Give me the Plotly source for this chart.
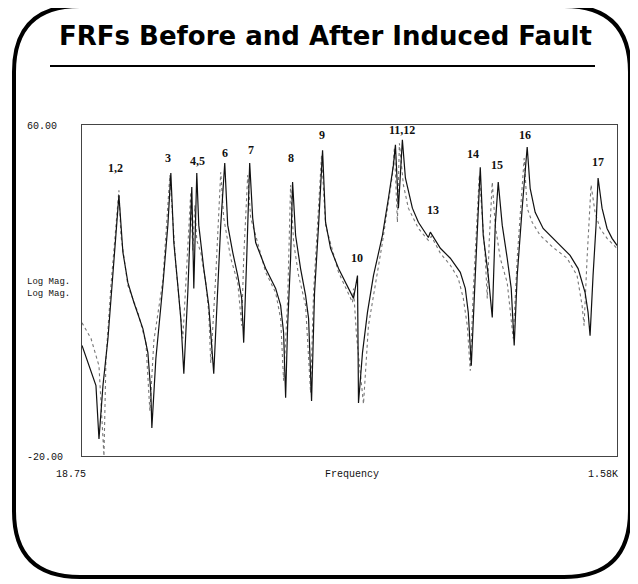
import plotly.graph_objects as go

# ---- data ----
before_freq = [18.75, 59.5, 68.3, 79.9, 94.5, 112, 126.5, 138.2, 152.7, 170.2,
               196.4, 211, 219.7, 222.6, 234.3, 254.7, 269.3, 278, 286.7, 298.4,
               307.1, 315.9, 327.5, 339.2, 345, 353.7, 359.5, 374.1, 388.7, 403.2,
               414.9, 423.6, 435.3, 444, 458.6, 473.2, 484.8, 490.6, 499.4, 508.1,
               516.9, 525.6, 554.7, 583.8, 598.4, 607.1, 613, 618.8, 627.5, 633.3,
               642.1, 656.6, 671.2, 680, 688.7, 697.4, 709.1, 720.8, 729.5, 744.1,
               767.4, 793.6, 811.1, 822.7, 825.6, 837.3, 851.8, 869.3, 895.5, 913,
               927.5, 933.4, 942.1, 953.7, 962.5, 982.9, 1000.4, 1029.5, 1035.3, 1064.5,
               1093.6, 1122.7, 1137.3, 1146, 1154.8, 1166.4, 1181, 1189.7, 1204.3, 1216,
               1224.7, 1233.4, 1245.1, 1259.6, 1271.3, 1280, 1288.8, 1303.3, 1317.9, 1326.6,
               1341.2, 1364.5, 1405.3, 1443.1, 1466.5, 1486.9, 1495.6, 1501.4, 1510.1, 1518.9,
               1524.8, 1536.4, 1551, 1565.6, 1580]
before_mag = [6.7, -3, -15.9, -3, 8.4, 26.1, 43, 29.2, 21.9, 17.1,
              10.8, 5, -4.7, -13.2, 3.5, 21.2, 35.8, 48.4, 31.6, 21.2,
              13.2, -0.1, 19.5, 45, 20.5, 48.4, 35.8, 25.3, 16.4, -0.1,
              19.5, 35.8, 50.8, 35.8, 29.2, 23.6, 18.1, 7.4, 27.8, 50.8,
              37.5, 31.6, 25.3, 20.5, 16.4, 9.8, -5.9, 11.5, 27.8, 46.2,
              33.3, 25.3, 18.8, 13.2, -6.7, 19.5, 35.8, 53.9, 36.5, 30.2,
              25.3, 21.2, 18.1, 23.6, -7.2, 5, 14.7, 23.6, 33.3, 42.3,
              50.3, 55.2, 39.9, 56.4, 47.2, 39.9, 36.5, 32.8, 34.1, 30.2,
              27.8, 24.4, 20.5, 14.7, 1.8, 23.6, 49.8, 33.3, 23.6, 13.5,
              35.8, 46.2, 35.8, 27.8, 20.5, 6.7, 23.6, 39.9, 54.7, 44.7,
              38.9, 35, 31.6, 28.5, 25.3, 19.5, 14.7, 9.1, 23.6, 35.8,
              47.2, 39.9, 35, 32.6, 30.9]

after_freq = [18.75, 45, 68.3, 82.8, 88.7, 103.2, 126.5, 132.3, 152.7, 181.9,
              205.2, 216.8, 228.5, 254.7, 275.1, 292.6, 313, 324.6, 336.2, 342.1,
              347.9, 353.7, 365.4, 379.9, 388.7, 394.5, 409.1, 423.6, 432.4, 452.8,
              473.2, 484.8, 490.6, 502.3, 511, 525.6, 540.2, 554.7, 583.8, 598.4,
              607.1, 618.8, 627.5, 636.3, 650.8, 671.2, 685.8, 694.5, 717.8, 729.5,
              767.4, 808.2, 811.1, 819.8, 840.2, 854.7, 895.5, 924.6, 930.4, 939.2,
              945, 956.7, 971.2, 1000.4, 1029.5, 1038.2, 1064.5, 1093.6, 1116.9, 1131.5,
              1143.1, 1151.8, 1160.6, 1178.1, 1195.6, 1201.4, 1207.2, 1216, 1224.7, 1239.3,
              1259.6, 1277.1, 1288.8, 1309.1, 1317.9, 1332.4, 1355.8, 1393.6, 1434.4, 1463.5,
              1478.1, 1483.9, 1492.7, 1504.3, 1516, 1530.6, 1551, 1580]
after_mag = [12.2, 8.4, 1.8, -20, 3.5, 21.2, 44.2, 33.3, 21.2, 14.7,
             7.4, -9.1, 7.9, 22.4, 47.9, 26.1, 8.4, 24.8, 43.8, 29.7,
             40.6, 32.1, 29.2, 21.9, 14.7, 2.5, 23.6, 48.6, 37.5, 27.8,
             21.9, 11.5, 27.8, 47.9, 37.5, 33.3, 28.5, 24.4, 19.5, 13.2,
             -1.8, 17.6, 45.5, 31.6, 23.6, 16.4, -4.7, 19.5, 52.7, 35.8,
             24.4, 17.1, 20.5, 9.1, -7.4, 11.5, 31.6, 47.9, 54.4, 36.5,
             55.6, 45.5, 39.9, 35, 32.1, 33.1, 29, 26.1, 22.9, 18.1,
             11.5, 0.6, 20, 47.9, 27.8, 18.1, 32.1, 46.2, 35.8, 27.8,
             21.9, 8.4, 27.8, 52, 39.9, 36.5, 33.3, 30.4, 27.8, 23.6,
             16.4, 11.5, 27.8, 45.5, 38.9, 35, 32.6, 30.2]

peak_labels = ["1,2", "3", "4,5", "6", "7", "8", "9", "10", "11,12", "13", "14", "15", "16", "17"]
peak_freq = [117.8, 269.3, 356.6, 435.3, 511, 627.5, 717.8, 822.7, 953.7, 1044, 1160.6, 1230.5, 1312, 1524.8]
peak_mag = [49.6, 52, 51.3, 53.2, 53.9, 52, 57.6, 27.8, 58.8, 39.4, 53, 50.3, 57.6, 51]

title_text = "FRFs Before and After Induced Fault"
x_min, x_max = 18.75, 1580
y_min, y_max = -20, 60
x_min_label, x_max_label, x_title = "18.75", "1.58K", "Frequency"
y_max_label, y_min_label, y_title = "60.00", "-20.00", "Log Mag."

# ---- layout geometry (page pixels; the page body has an 8px margin) ----
OFF = 8
PAGE_W, PAGE_H = 638, 584
W, H = PAGE_W - OFF, PAGE_H - OFF
PL, PR, PT, PB = 82, 617, 125, 456


def px(x):
    return (x - PL) / (PR - PL)


def py(y):
    return (PB - y) / (PB - PT)


fig = go.Figure()
fig.add_trace(go.Scatter(x=after_freq, y=after_mag, mode="lines",
                         line=dict(color="#777777", width=1.1, dash="dot"),
                         showlegend=False, hoverinfo="skip"))
fig.add_trace(go.Scatter(x=before_freq, y=before_mag, mode="lines",
                         line=dict(color="#111111", width=1.2),
                         showlegend=False, hoverinfo="skip"))

annotations = []
for t, f, m in zip(peak_labels, peak_freq, peak_mag):
    annotations.append(dict(x=f, y=m, xref="x", yref="y", text="<b>%s</b>" % t,
                            showarrow=False, xanchor="center", yanchor="middle",
                            font=dict(family="Liberation Serif", size=12, color="#111")))

mono = dict(family="Liberation Mono", size=10, color="#111")
axis_texts = [
    dict(x=px(25), y=py(127), text=y_max_label, xanchor="left"),
    dict(x=px(25), y=py(457), text=y_min_label, xanchor="left"),
    dict(x=px(25), y=py(287.5), text=y_title + "<br>" + y_title, xanchor="left", align="left",
         font=dict(family="Liberation Mono", size=9, color="#111")),
    dict(x=px(54), y=py(474), text=x_min_label, xanchor="left"),
    dict(x=px(352), y=py(474), text=x_title, xanchor="center"),
    dict(x=px(620), y=py(474), text=x_max_label, xanchor="right"),
]
for a in axis_texts:
    a.setdefault("font", mono)
    a.update(xref="paper", yref="paper", showarrow=False, yanchor="middle")
annotations += axis_texts

annotations.append(dict(x=px(325), y=py(36), xref="paper", yref="paper", text="<b>%s</b>" % title_text,
                        showarrow=False, xanchor="center", yanchor="middle",
                        font=dict(family="DejaVu Sans", size=26, color="#000")))

# rounded frame
L, R, T, B, r = 14, 630, 6, 577, 66


def P(x, y):
    return "%f,%f" % (px(x), py(y))


path = ("M " + P(L + r, T) + " L " + P(R - r, T) + " Q " + P(R, T) + " " + P(R, T + r) +
        " L " + P(R, B - r) + " Q " + P(R, B) + " " + P(R - r, B) +
        " L " + P(L + r, B) + " Q " + P(L, B) + " " + P(L, B - r) +
        " L " + P(L, T + r) + " Q " + P(L, T) + " " + P(L + r, T) + " Z")

shapes = [
    dict(type="path", xref="paper", yref="paper", path=path, line=dict(color="#000", width=4)),
    dict(type="line", xref="paper", yref="paper", x0=px(50), x1=px(595), y0=py(66), y1=py(66),
         line=dict(color="#000", width=2)),
]

fig.update_layout(
    width=W, height=H,
    margin=dict(l=PL - OFF, r=PAGE_W - PR, t=PT - OFF, b=PAGE_H - PB, pad=0),
    paper_bgcolor="white", plot_bgcolor="white",
    xaxis=dict(range=[x_min, x_max], showgrid=False, zeroline=False, showticklabels=False,
               ticks="", showline=True, mirror=True, linecolor="#444", linewidth=1),
    yaxis=dict(range=[y_min, y_max], showgrid=False, zeroline=False, showticklabels=False,
               ticks="", showline=True, mirror=True, linecolor="#444", linewidth=1),
    annotations=annotations, shapes=shapes, showlegend=False,
)

fig.write_html("out.html")
